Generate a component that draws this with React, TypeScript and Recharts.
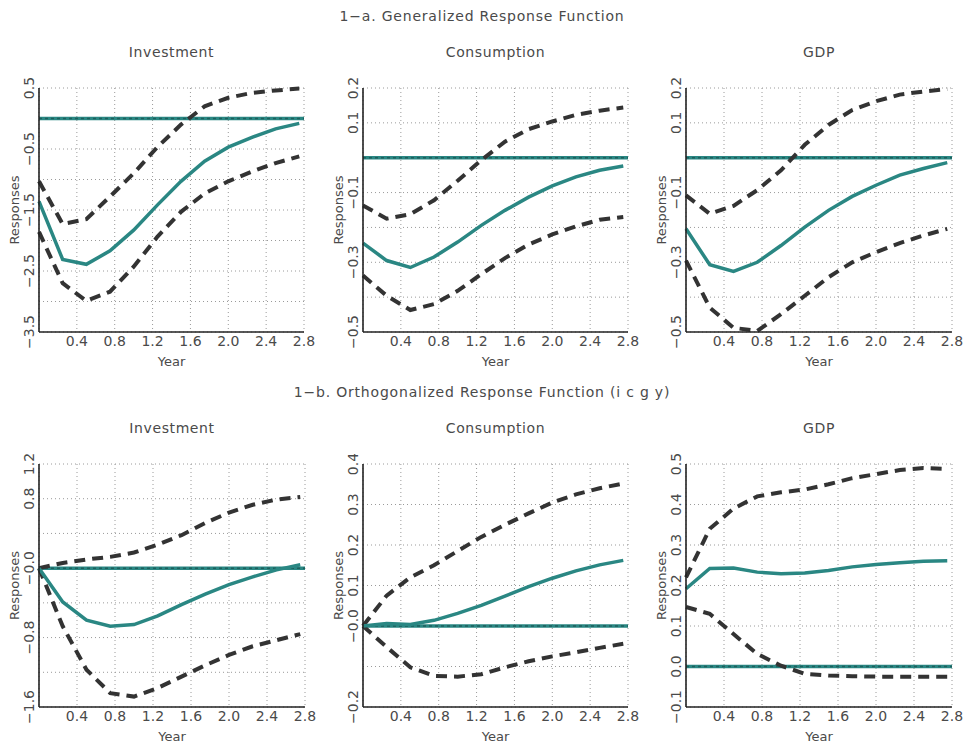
import React from 'react';
import { LineChart, Line, XAxis, YAxis, CartesianGrid, ReferenceLine } from 'recharts';

const YEARS = [0, 0.25, 0.5, 0.75, 1.0, 1.25, 1.5, 1.75, 2.0, 2.25, 2.5, 2.75];
const X_TICKS = [0.4, 0.8, 1.2, 1.6, 2.0, 2.4, 2.8];

// 1-a generalized
const genInvMean = [-1.36, -2.31, -2.39, -2.17, -1.83, -1.42, -1.03, -0.7, -0.47, -0.31, -0.17, -0.08];
const genInvUpper = [-1.03, -1.73, -1.65, -1.28, -0.9, -0.47, -0.1, 0.2, 0.34, 0.42, 0.46, 0.49];
const genInvLower = [-1.86, -2.7, -2.99, -2.84, -2.43, -1.94, -1.53, -1.23, -1.03, -0.87, -0.73, -0.62];

const genConMean = [-0.245, -0.295, -0.315, -0.285, -0.242, -0.194, -0.151, -0.113, -0.081, -0.055, -0.036, -0.024];
const genConUpper = [-0.137, -0.175, -0.162, -0.122, -0.066, -0.007, 0.046, 0.082, 0.104, 0.123, 0.135, 0.144];
const genConLower = [-0.338, -0.396, -0.437, -0.42, -0.382, -0.334, -0.288, -0.249, -0.22, -0.197, -0.178, -0.17];

const genGdpMean = [-0.204, -0.307, -0.326, -0.3, -0.252, -0.199, -0.151, -0.111, -0.079, -0.05, -0.031, -0.014];
const genGdpUpper = [-0.108, -0.161, -0.138, -0.093, -0.036, 0.037, 0.094, 0.137, 0.162, 0.181, 0.19, 0.197];
const genGdpLower = [-0.295, -0.43, -0.488, -0.497, -0.449, -0.396, -0.343, -0.3, -0.271, -0.245, -0.223, -0.204];

// 1-b orthogonalized
const ortInvMean = [0, -0.39, -0.6, -0.67, -0.65, -0.55, -0.42, -0.3, -0.19, -0.1, -0.02, 0.04];
const ortInvUpper = [0, 0.06, 0.1, 0.13, 0.18, 0.27, 0.38, 0.52, 0.64, 0.73, 0.79, 0.82];
const ortInvLower = [0, -0.67, -1.17, -1.44, -1.48, -1.38, -1.25, -1.12, -1.0, -0.9, -0.83, -0.76];

const ortConMean = [0, 0.006, 0.004, 0.014, 0.031, 0.051, 0.074, 0.097, 0.118, 0.136, 0.151, 0.162];
const ortConUpper = [0, 0.075, 0.12, 0.15, 0.185, 0.22, 0.25, 0.278, 0.305, 0.325, 0.34, 0.352];
const ortConLower = [0, -0.052, -0.102, -0.123, -0.125, -0.119, -0.102, -0.087, -0.075, -0.065, -0.054, -0.044];

const ortGdpMean = [0.192, 0.242, 0.243, 0.233, 0.229, 0.231, 0.237, 0.246, 0.252, 0.256, 0.26, 0.261];
const ortGdpUpper = [0.22, 0.34, 0.39, 0.42, 0.43, 0.437, 0.45, 0.465, 0.475, 0.485, 0.49, 0.488];
const ortGdpLower = [0.147, 0.13, 0.08, 0.031, 0.002, -0.018, -0.022, -0.024, -0.025, -0.025, -0.025, -0.025];

// y grid ticks and the labels that are printed
const yGrid1 = [0.5, 0, -0.5, -1, -1.5, -2, -2.5, -3, -3.5];
const yLab1 = ['0.5', '', '−0.5', '', '−1.5', '', '−2.5', '', '−3.5'];
const yGrid2 = [0.2, 0.1, 0, -0.1, -0.2, -0.3, -0.4, -0.5];
const yLab2 = ['0.2', '0.1', '', '−0.1', '', '−0.3', '', '−0.5'];
const yGrid4 = [1.2, 0.8, 0.4, 0, -0.4, -0.8, -1.2, -1.6];
const yLab4 = ['1.2', '0.8', '', '−0.0', '', '−0.8', '', '−1.6'];
const yGrid5 = [0.4, 0.3, 0.2, 0.1, 0, -0.1, -0.2];
const yLab5 = ['0.4', '0.3', '0.2', '0.1', '−0.0', '', '−0.2'];
const yGrid6 = [0.5, 0.4, 0.3, 0.2, 0.1, 0, -0.1];
const yLab6 = ['0.5', '0.4', '0.3', '0.2', '0.1', '0.0', '−0.1'];

const TEAL = '#2a8783';
const DARK = '#333333';
const TEXT = '#4a4a4a';
const FONT = '"DejaVu Sans", "Liberation Sans", sans-serif';

const YW = 50;
const MT = 10;
const MR = 12;
const XH = 42;

function Panel({ left, top, pw, ph, title, mean, upper, lower, grid, labels }) {
  const data = YEARS.map((t, i) => ({ t, mean: mean[i], upper: upper[i], lower: lower[i] }));
  const domain = [grid[grid.length - 1], grid[0]];

  const YTick = ({ x, y, payload }) => {
    const i = grid.findIndex(g => Math.abs(g - payload.value) < 1e-9);
    const lab = i >= 0 ? labels[i] : '';
    if (!lab) return null;
    return (
      <text
        transform={`translate(${x - 5},${y}) rotate(-90)`}
        textAnchor="middle"
        fill={TEXT}
        fontSize={14}
        fontFamily={FONT}
      >
        {lab}
      </text>
    );
  };

  return (
    <div style={{ position: 'absolute', left: left - YW, top: top - MT }}>
      <div
        style={{ position: 'absolute', left: YW, width: pw, top: -34, textAlign: 'center', fontFamily: FONT, fontSize: 14, color: TEXT, letterSpacing: 0.6 }}
      >
        {title}
      </div>
      <LineChart
        width={YW + pw + MR}
        height={MT + ph + XH}
        data={data}
        margin={{ top: MT, right: MR, bottom: 0, left: 0 }}
      >
        <CartesianGrid stroke="#9a9a9a" strokeDasharray="1 3" />
        <XAxis
          dataKey="t"
          type="number"
          domain={[0, 2.8]}
          ticks={X_TICKS}
          tickFormatter={(v) => v.toFixed(1)}
          height={XH}
          tickLine={false}
          tickSize={0}
          tickMargin={4}
          axisLine={{ stroke: '#222', strokeWidth: 1.6 }}
          tick={{ fill: TEXT, fontSize: 14, fontFamily: FONT }}
          label={{ value: 'Year', position: 'insideBottom', offset: 8, fill: TEXT, fontSize: 13, fontFamily: FONT }}
        />
        <XAxis xAxisId="top" orientation="top" type="number" domain={[0, 2.8]} height={0} tick={false} tickLine={false} axisLine={{ stroke: '#222', strokeWidth: 1.6 }} />
        <YAxis
          type="number"
          domain={domain}
          ticks={grid}
          width={YW}
          tickLine={false}
          tickSize={0}
          tickMargin={0}
          interval={0}
          axisLine={{ stroke: '#222', strokeWidth: 1.6 }}
          tick={<YTick />}
          label={{ value: 'Responses', angle: -90, position: 'center', dx: 0, fill: TEXT, fontSize: 13, fontFamily: FONT }}
        />
        <YAxis yAxisId="right" orientation="right" type="number" domain={domain} width={0} tick={false} tickLine={false} axisLine={{ stroke: '#222', strokeWidth: 1.6 }} />
        <ReferenceLine y={0} stroke={TEAL} strokeWidth={3.5} />
        <ReferenceLine y={0} stroke="#1d5f5c" strokeWidth={1.5} strokeDasharray="3 3" />
        <Line dataKey="upper" stroke={DARK} strokeWidth={4} strokeDasharray="11 7" dot={false} isAnimationActive={false} />
        <Line dataKey="lower" stroke={DARK} strokeWidth={4} strokeDasharray="11 7" dot={false} isAnimationActive={false} />
        <Line dataKey="mean" stroke={TEAL} strokeWidth={3.5} dot={false} isAnimationActive={false} />
      </LineChart>
    </div>
  );
}

const heading = (top, text) => (
  <div style={{ position: 'absolute', left: 0, width: 964, top, textAlign: 'center', fontFamily: FONT, fontSize: 14, color: TEXT, letterSpacing: 0.8 }}>
    {text}
  </div>
);

export default function App() {
  return (
    <div style={{ position: 'absolute', left: 0, top: 0, width: 964, height: 745, background: '#fff', overflow: 'hidden' }}>
      {heading(8, '1−a. Generalized Response Function')}
      {heading(384, '1−b. Orthogonalized Response Function (i c g y)')}
      <Panel left={39} top={88} pw={265} ph={244} title="Investment" mean={genInvMean} upper={genInvUpper} lower={genInvLower} grid={yGrid1} labels={yLab1} />
      <Panel left={363} top={88} pw={265} ph={244} title="Consumption" mean={genConMean} upper={genConUpper} lower={genConLower} grid={yGrid2} labels={yLab2} />
      <Panel left={686} top={88} pw={266} ph={244} title="GDP" mean={genGdpMean} upper={genGdpUpper} lower={genGdpLower} grid={yGrid2} labels={yLab2} />
      <Panel left={39} top={464} pw={266} ph={243} title="Investment" mean={ortInvMean} upper={ortInvUpper} lower={ortInvLower} grid={yGrid4} labels={yLab4} />
      <Panel left={363} top={464} pw={265} ph={243} title="Consumption" mean={ortConMean} upper={ortConUpper} lower={ortConLower} grid={yGrid5} labels={yLab5} />
      <Panel left={686} top={464} pw={266} ph={243} title="GDP" mean={ortGdpMean} upper={ortGdpUpper} lower={ortGdpLower} grid={yGrid6} labels={yLab6} />
    </div>
  );
}
